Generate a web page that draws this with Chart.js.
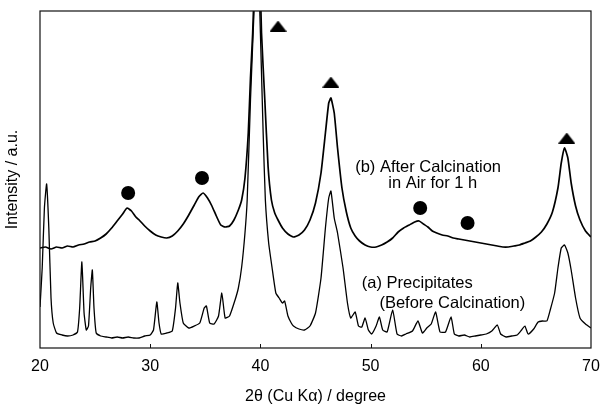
<!DOCTYPE html>
<html>
<head>
<meta charset="utf-8">
<script src="https://cdn.jsdelivr.net/npm/chart.js@4"></script>
<style>
  html, body { margin: 0; padding: 0; background: #fff; }
  #wrap { width: 602px; height: 405px; }
</style>
</head>
<body>
<div id="wrap"><canvas id="chart" width="602" height="405"></canvas></div>
<script>
// (a) precipitates, before calcination
const twoThetaA = [20.0, 20.2, 20.4, 20.6, 20.8, 21.0, 21.2, 21.5, 22.0, 22.5, 23.0, 23.4, 23.6, 23.8, 24.0, 24.2, 24.4, 24.6, 24.75, 24.9,
  25.1, 25.5, 26.0, 26.5, 27.0, 27.5, 28.0, 28.5, 29.0, 29.5, 30.0, 30.3, 30.6, 30.8, 31.0, 31.5, 32.0, 32.3, 32.5, 32.7,
  33.0, 33.5, 34.0, 34.5, 34.9, 35.1, 35.4, 35.8, 36.2, 36.5, 36.8, 37.2, 37.7, 38.0, 38.3, 38.6, 38.8, 39.1, 39.4, 39.7,
  40.0, 40.25, 40.45, 40.75, 41.05, 41.4, 41.7, 42.0, 42.2, 42.5, 42.8, 43.0, 43.5, 44.0, 44.5, 45.0, 45.5, 45.9, 46.2, 46.4,
  46.7, 47.0, 47.5, 47.9, 48.2, 48.6, 48.9, 49.2, 49.5, 49.8, 50.1, 50.5, 50.8, 51.1, 51.5, 52.0, 52.4, 52.8, 53.2, 53.8,
  54.3, 54.7, 55.1, 55.5, 55.9, 56.3, 56.8, 57.3, 57.6, 58.0, 58.5, 59.0, 59.5, 60.0, 60.5, 61.0, 61.5, 61.8, 62.3, 62.8,
  63.3, 63.7, 64.0, 64.3, 64.8, 65.2, 65.6, 66.0, 66.3, 66.7, 67.0, 67.3, 67.6, 67.9, 68.2, 68.6, 69.0, 69.5, 70.0];
const intensityA = [41, 80, 140, 164, 120, 50, 25, 15, 13, 12, 13, 16, 40, 86, 35, 18, 22, 60, 78, 40,
  15, 12, 11, 10, 11, 10, 11, 10, 10, 12, 13, 18, 46, 25, 14, 15, 17, 40, 65, 45,
  25, 20, 22, 25, 40, 42, 25, 24, 32, 55, 30, 32, 48, 60, 81, 115, 148, 248, 331, 420,
  315, 215, 148, 105, 81, 55, 50, 45, 47, 32, 25, 22, 19, 18, 22, 35, 70, 120, 150, 157,
  130, 115, 80, 45, 30, 36, 22, 21, 30, 18, 14, 22, 31, 18, 16, 38, 14, 12, 14, 17,
  27, 15, 20, 24, 36, 16, 16, 31, 14, 12, 13, 11, 12, 13, 14, 17, 23, 14, 11, 12,
  13, 18, 22, 14, 19, 26, 27, 27, 38, 55, 80, 100, 103, 95, 78, 50, 30, 24, 20];

// (b) after calcination in air for 1 h
const twoThetaB = [20.0, 20.5, 21.0, 21.5, 22.0, 22.5, 23.0, 23.5, 24.0, 24.5, 25.0, 25.5, 26.0, 26.5, 27.0, 27.5, 27.9, 28.3, 28.7, 29.0,
  29.5, 30.0, 30.5, 31.0, 31.5, 32.0, 32.5, 33.0, 33.5, 34.0, 34.4, 34.8, 35.2, 35.6, 36.0, 36.4, 36.8, 37.2, 37.6, 38.0,
  38.3, 38.6, 38.9, 39.1, 39.3, 39.5, 39.7, 39.9, 40.1, 40.4, 40.7, 41.0, 41.3, 41.6, 42.0, 42.5, 43.0, 43.5, 44.0, 44.5,
  45.0, 45.5, 45.9, 46.2, 46.4, 46.7, 47.0, 47.4, 47.8, 48.2, 48.6, 49.0, 49.5, 50.0, 50.5, 51.0, 51.5, 52.0, 52.5, 53.0,
  53.5, 54.0, 54.4, 54.8, 55.2, 55.6, 56.0, 56.5, 57.0, 57.5, 58.0, 58.5, 59.0, 59.5, 60.0, 60.5, 61.0, 61.5, 62.0, 62.5,
  63.0, 63.5, 64.0, 64.5, 65.0, 65.5, 66.0, 66.5, 67.0, 67.3, 67.6, 67.9, 68.2, 68.6, 69.0, 69.5, 70.0];
const intensityB = [100, 101, 99, 101, 100, 102, 101, 103, 104, 106, 107, 110, 114, 120, 127, 134, 140, 137, 131, 128,
  122, 117, 113, 111, 110, 112, 117, 124, 133, 143, 151, 155, 150, 142, 132, 123, 121, 122, 128, 138,
  148, 170, 215, 270, 315, 380, 440, 400, 315, 248, 181, 148, 135, 128, 120, 114, 111, 113, 118, 128,
  145, 175, 215, 245, 250, 235, 200, 160, 136, 120, 112, 107, 103, 101, 101, 103, 106, 110, 116, 120,
  123, 126, 127, 124, 121, 117, 115, 113, 112, 110, 109, 108, 107, 106, 105, 104, 103, 102, 101, 101,
  102, 103, 105, 107, 111, 116, 124, 136, 160, 185, 200, 190, 165, 142, 128, 117, 111];

// phase markers
const circleX = [28.0, 34.7, 54.5, 58.8];
const circleY = [155, 170, 140, 125];
const triangleX = [41.6, 46.4, 67.8];
const triangleY = [322, 266, 210];

const pts = (xs, ys) => xs.map((x, i) => ({ x: x, y: ys[i] }));

// flat filled triangle used as point style
const tri = document.createElement('canvas');
tri.width = 17; tri.height = 11;
const tc = tri.getContext('2d');
tc.fillStyle = '#000';
tc.beginPath();
tc.moveTo(8.5, 0); tc.lineTo(17, 11); tc.lineTo(0, 11); tc.closePath();
tc.fill();

const FONT = "'Liberation Sans', Arial, sans-serif";

const frame = {
  id: 'frame',
  afterDatasetsDraw(chart) {
    const { ctx, chartArea: a, scales } = chart;
    ctx.save();
    ctx.strokeStyle = '#111';
    ctx.lineWidth = 1.2;
    ctx.strokeRect(a.left, a.top, a.right - a.left, a.bottom - a.top);
    // small inward ticks on the bottom axis
    ctx.lineWidth = 1;
    for (let v = 30; v <= 60; v += 10) {
      const px = Math.round(scales.x.getPixelForValue(v)) + 0.5;
      ctx.beginPath();
      ctx.moveTo(px, a.bottom);
      ctx.lineTo(px, a.bottom - 4);
      ctx.stroke();
    }
    // curve labels
    const notes = [
      ['(b) After Calcination', 48.6, 181],
      ['in Air for 1 h', 51.6, 165],
      ['(a) Precipitates', 49.2, 65],
      ['(Before Calcination)', 50.8, 45]
    ];
    ctx.fillStyle = '#000';
    ctx.font = '16.5px ' + FONT;
    ctx.textBaseline = 'middle';
    notes.forEach(n => {
      ctx.fillText(n[0], scales.x.getPixelForValue(n[1]), scales.y.getPixelForValue(n[2]));
    });
    ctx.restore();
  }
};

new Chart(document.getElementById('chart'), {
  type: 'line',
  data: {
    datasets: [
      {
        label: '(b)',
        data: pts(twoThetaB, intensityB),
        borderColor: '#000',
        borderWidth: 1.7,
        pointRadius: 0,
        tension: 0.15
      },
      {
        label: '(a)',
        data: pts(twoThetaA, intensityA),
        borderColor: '#000',
        borderWidth: 1.3,
        pointRadius: 0,
        tension: 0.15
      },
      {
        label: 'circles',
        data: pts(circleX, circleY),
        showLine: false,
        pointStyle: 'circle',
        pointRadius: 7,
        backgroundColor: '#000',
        borderColor: '#000',
        borderWidth: 0
      },
      {
        label: 'triangles',
        data: pts(triangleX, triangleY),
        showLine: false,
        pointStyle: tri,
        pointRadius: 8
      }
    ]
  },
  options: {
    responsive: false,
    animation: false,
    layout: { padding: { top: 11, right: 11, left: 0, bottom: 0 } },
    plugins: {
      legend: { display: false },
      tooltip: { enabled: false }
    },
    scales: {
      x: {
        type: 'linear',
        min: 20,
        max: 70,
        grid: { display: false, drawTicks: false },
        border: { display: false },
        ticks: {
          stepSize: 10,
          padding: 9,
          color: '#000',
          font: { size: 16, family: FONT }
        },
        title: {
          display: true,
          text: '2θ (Cu Kα) / degree',
          color: '#000',
          padding: 0,
          font: { size: 16, family: FONT, lineHeight: 1 }
        },
        afterFit(scale) {
          scale.height = 57;
          scale.paddingLeft = 0;
          scale.paddingRight = 0;
        }
      },
      y: {
        min: 0,
        max: 337,
        grid: { display: false, drawTicks: false },
        border: { display: false },
        ticks: { display: false },
        title: {
          display: true,
          text: 'Intensity / a.u.',
          color: '#000',
          padding: { top: 3, bottom: 0 },
          font: { size: 16, family: FONT }
        },
        afterFit(scale) { scale.width = 40; }
      }
    }
  },
  plugins: [frame]
});
</script>
</body>
</html>
